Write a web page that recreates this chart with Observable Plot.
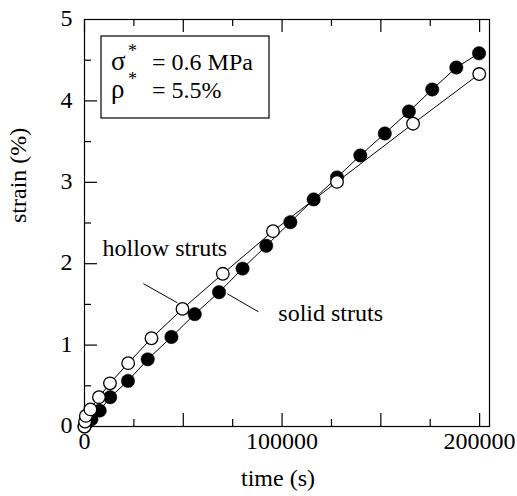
<!DOCTYPE html>
<html>
<head>
<meta charset="utf-8">
<script src="https://cdn.jsdelivr.net/npm/d3@7"></script>
<script src="https://cdn.jsdelivr.net/npm/@observablehq/plot@0.6"></script>
<style>
  html, body { margin: 0; padding: 0; background: #fff; }
</style>
</head>
<body>
<div id="chart"></div>
<script>
// ---- data ----
const solidTime   = [0, 1000, 3500, 7700, 13000, 22000, 32000, 44000, 55800, 68100, 80000, 92000, 104200, 116000, 127800, 139600, 152000, 164200, 176000, 188200, 199700];
const solidStrain = [0, 0.04, 0.09, 0.195, 0.36, 0.56, 0.825, 1.10, 1.38, 1.65, 1.94, 2.22, 2.51, 2.79, 3.06, 3.33, 3.60, 3.87, 4.14, 4.41, 4.585];
const hollowTime   = [0, 300, 700, 3000, 7300, 12900, 22100, 33900, 49600, 70000, 95400, 127800, 166300, 199800];
const hollowStrain = [0, 0.06, 0.13, 0.21, 0.36, 0.53, 0.778, 1.084, 1.445, 1.876, 2.40, 3.005, 3.72, 4.33];

const xTickLabels = [0, 100000, 200000];
const yTickLabels = [0, 1, 2, 3, 4, 5];
const xMajorTicks = [0, 50000, 100000, 150000, 200000];
const xMinorTicks = [25000, 75000, 125000, 175000];
const yMajorTicks = [1, 2, 3, 4];
const yMinorTicks = [0.5, 1.5, 2.5, 3.5, 4.5];

const seriesLabels = ["hollow struts", "solid struts"];
const labelTime   = [9100, 98100];
const labelStrain = [2.185, 1.385];
// leader lines
const leaderX1 = [29800, 88000];
const leaderY1 = [1.755, 1.41];
const leaderX2 = [47000, 72300];
const leaderY2 = [1.52, 1.63];

const legendSymbols = ["σ", "ρ"];
const legendSup = ["*", "*"];
const legendText = ["= 0.6 MPa", "= 5.5%"];

const xLabel = "time (s)";
const yLabel = "strain (%)";

// ---- tables ----
const solid = solidTime.map((t, i) => ({t, s: solidStrain[i]}));
const hollow = hollowTime.map((t, i) => ({t, s: hollowStrain[i]}));
const annotations = seriesLabels.map((label, i) => ({label, t: labelTime[i], s: labelStrain[i]}));
const leaders = leaderX1.map((x1, i) => ({x1, y1: leaderY1[i], x2: leaderX2[i], y2: leaderY2[i]}));

const W = 517, H = 496;
const mL = 84, mR = 28, mT = 19, mB = 70;
const frameW = W - mL - mR, frameH = H - mT - mB;
const FONT = "Liberation Serif, Times New Roman, serif";
const FS = 24;

function legendBox(index, scales, values, dims) {
  const g = d3.create("svg:g").attr("text-anchor", "start");
  const x0 = dims.marginLeft + 17, y0 = dims.marginTop + 17;
  g.append("rect").attr("x", x0).attr("y", y0).attr("width", 168).attr("height", 82)
    .attr("fill", "white").attr("stroke", "black").attr("stroke-width", 1.2);
  legendSymbols.forEach((sym, i) => {
    const base = y0 + 34 + i * 28;
    g.append("text").attr("x", x0 + 10).attr("y", base)
      .attr("font-family", FONT).attr("font-size", 27).attr("fill", "black")
      .text(sym);
    g.append("text").attr("x", x0 + 27).attr("y", base - 13)
      .attr("font-family", FONT).attr("font-size", 18).attr("fill", "black")
      .text(legendSup[i]);
    g.append("text").attr("x", x0 + 51).attr("y", base)
      .attr("font-family", FONT).attr("font-size", FS).attr("fill", "black")
      .text(legendText[i]);
  });
  return g.node();
}

const chart = Plot.plot({
  width: W, height: H,
  marginLeft: mL, marginRight: mR, marginTop: mT, marginBottom: mB,
  style: {fontFamily: FONT, fontSize: FS + "px", color: "black", background: "white"},
  x: {domain: [0, 205000]},
  y: {domain: [0, 5]},
  marks: [
    Plot.frame({stroke: "black", strokeWidth: 1.2}),
    // bottom ticks
    Plot.tickX(xMajorTicks, {x: d => d, insetTop: frameH - 13, stroke: "black", strokeWidth: 1.2}),
    Plot.tickX(xMinorTicks, {x: d => d, insetTop: frameH - 7, stroke: "black", strokeWidth: 1.2}),
    // top ticks
    Plot.tickX(xMajorTicks, {x: d => d, insetBottom: frameH - 13, stroke: "black", strokeWidth: 1.2}),
    Plot.tickX(xMinorTicks, {x: d => d, insetBottom: frameH - 7, stroke: "black", strokeWidth: 1.2}),
    // left ticks
    Plot.tickY(yMajorTicks, {y: d => d, insetRight: frameW - 13, stroke: "black", strokeWidth: 1.2}),
    Plot.tickY(yMinorTicks, {y: d => d, insetRight: frameW - 7, stroke: "black", strokeWidth: 1.2}),
    Plot.axisX(xTickLabels, {tickSize: 0, tickPadding: 5, tickFormat: d => String(d), fontSize: FS, label: null}),
    Plot.axisY(yTickLabels, {tickSize: 0, tickPadding: 12, tickFormat: d => String(d), fontSize: FS, label: null, dy: -1}),
    Plot.text([xLabel], {frameAnchor: "bottom", lineAnchor: "bottom", dy: 59, dx: -9, fontSize: FS, fill: "black"}),
    Plot.text([yLabel], {frameAnchor: "left", lineAnchor: "middle", rotate: -90, dx: -66, fontSize: FS, fill: "black"}),
    // leader lines
    Plot.link(leaders, {x1: "x1", y1: "y1", x2: "x2", y2: "y2", stroke: "black", strokeWidth: 1}),
    // series
    Plot.line(solid, {x: "t", y: "s", stroke: "black", strokeWidth: 1}),
    Plot.line(hollow, {x: "t", y: "s", stroke: "black", strokeWidth: 1}),
    Plot.dot(solid, {x: "t", y: "s", r: 6.7, fill: "black", stroke: "black", strokeWidth: 0.5}),
    Plot.dot(hollow, {x: "t", y: "s", r: 6.3, fill: "white", stroke: "black", strokeWidth: 1.3}),
    // annotations
    Plot.text(annotations, {x: "t", y: "s", text: "label", textAnchor: "start", fontSize: FS, fill: "black"}),
    legendBox
  ]
});
document.getElementById("chart").appendChild(chart);
</script>
</body>
</html>
